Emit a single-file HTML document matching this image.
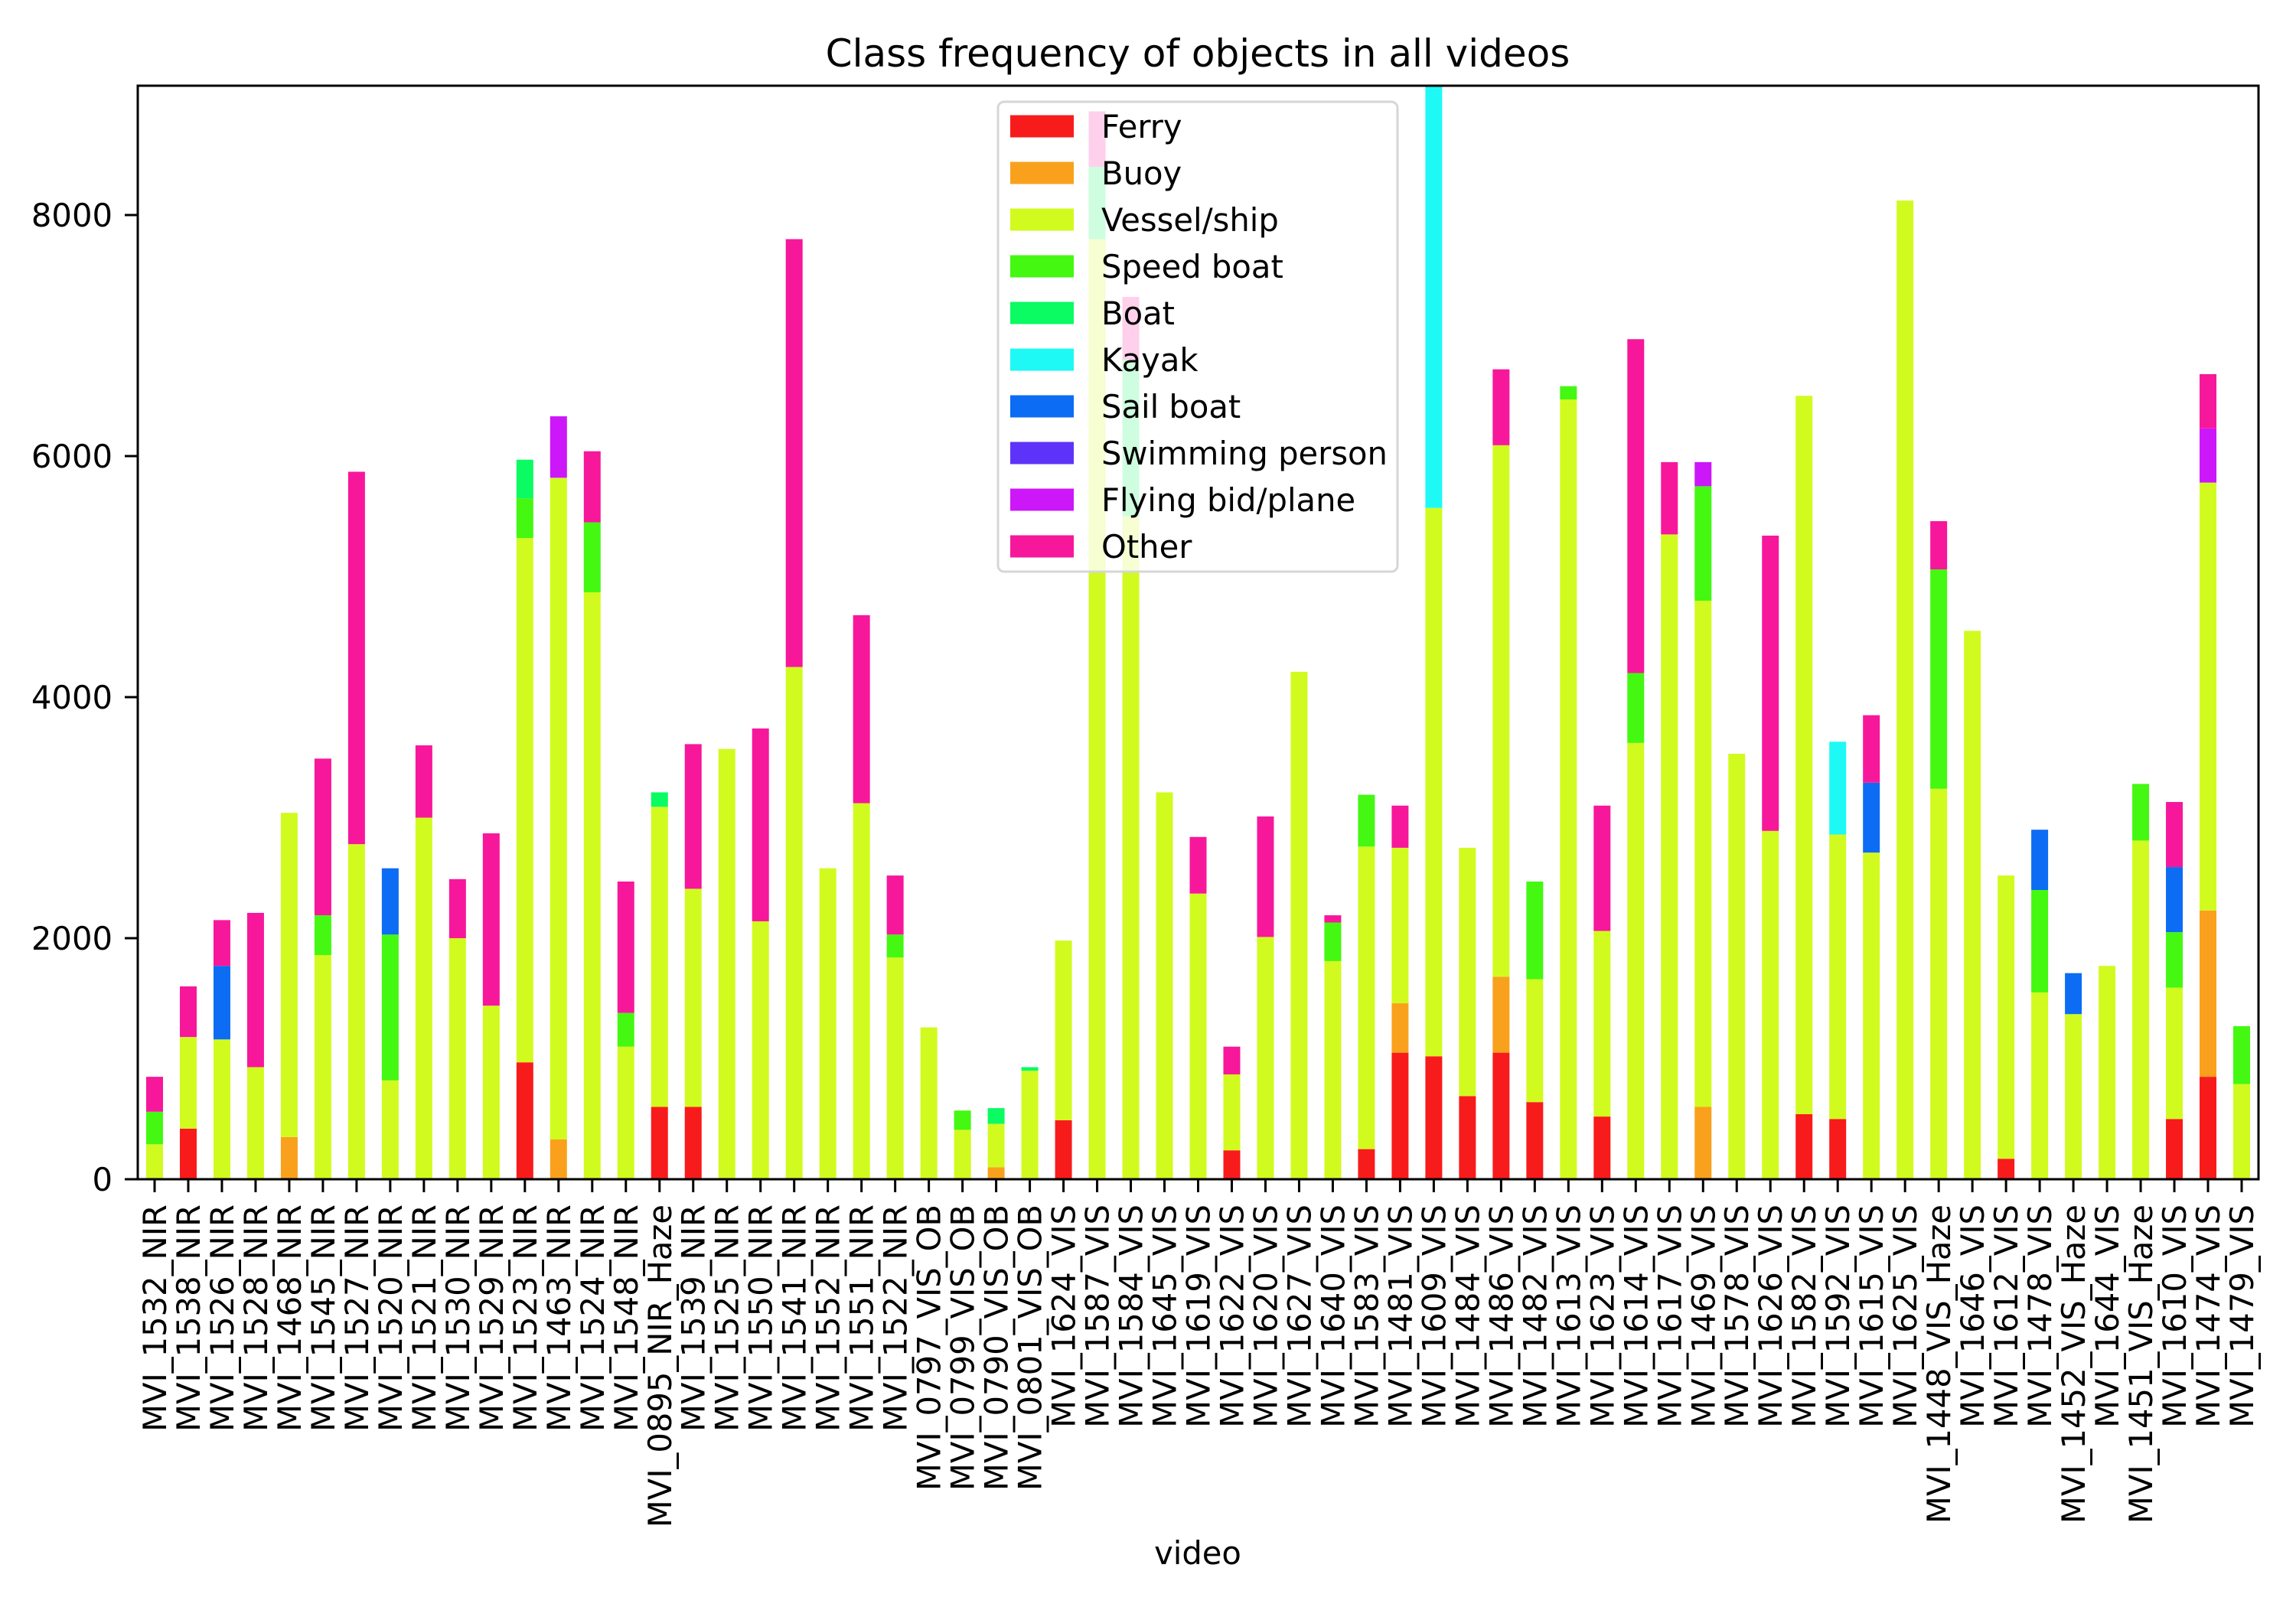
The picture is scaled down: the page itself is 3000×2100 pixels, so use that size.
<!DOCTYPE html>
<html><head><meta charset="utf-8"><style>html,body{margin:0;padding:0;background:#fff}svg{display:block}text{font-family:"DejaVu Sans","Liberation Sans",sans-serif}</style></head>
<body>
<svg id="chart" width="3000" height="2100" viewBox="0 0 3000 2100" xmlns="http://www.w3.org/2000/svg">
<rect width="3000" height="2100" fill="#fff"/>
<text x="1565" y="87" font-size="50" text-anchor="middle">Class frequency of objects in all videos</text>
<g id="bars"></g>
<g id="axes"></g>
<g id="legend"></g>
<text x="1565" y="2044" font-size="41.7" text-anchor="middle">video</text>
</svg>
<script>
const categories = ["MVI_1532_NIR","MVI_1538_NIR","MVI_1526_NIR","MVI_1528_NIR","MVI_1468_NIR","MVI_1545_NIR","MVI_1527_NIR","MVI_1520_NIR","MVI_1521_NIR","MVI_1530_NIR","MVI_1529_NIR","MVI_1523_NIR","MVI_1463_NIR","MVI_1524_NIR","MVI_1548_NIR","MVI_0895_NIR_Haze","MVI_1539_NIR","MVI_1525_NIR","MVI_1550_NIR","MVI_1541_NIR","MVI_1552_NIR","MVI_1551_NIR","MVI_1522_NIR","MVI_0797_VIS_OB","MVI_0799_VIS_OB","MVI_0790_VIS_OB","MVI_0801_VIS_OB","MVI_1624_VIS","MVI_1587_VIS","MVI_1584_VIS","MVI_1645_VIS","MVI_1619_VIS","MVI_1622_VIS","MVI_1620_VIS","MVI_1627_VIS","MVI_1640_VIS","MVI_1583_VIS","MVI_1481_VIS","MVI_1609_VIS","MVI_1484_VIS","MVI_1486_VIS","MVI_1482_VIS","MVI_1613_VIS","MVI_1623_VIS","MVI_1614_VIS","MVI_1617_VIS","MVI_1469_VIS","MVI_1578_VIS","MVI_1626_VIS","MVI_1582_VIS","MVI_1592_VIS","MVI_1615_VIS","MVI_1625_VIS","MVI_1448_VIS_Haze","MVI_1646_VIS","MVI_1612_VIS","MVI_1478_VIS","MVI_1452_VIS_Haze","MVI_1644_VIS","MVI_1451_VIS_Haze","MVI_1610_VIS","MVI_1474_VIS","MVI_1479_VIS"];
const seriesNames = ["Ferry","Buoy","Vessel/ship","Speed boat","Boat","Kayak","Sail boat","Swimming person","Flying bid/plane","Other"];
const seriesColors = ["#f81b1b","#f9a11d","#d1fb1f","#44f812","#0afb62","#1ef9f6","#0c6cf4","#5e33f9","#cc17f9","#f7179b"];
const ferry   = [0,420,0,0,0,0,0,0,0,0,0,970,0,0,0,600,600,0,0,0,0,0,0,0,0,0,0,490,0,0,0,0,240,0,0,0,250,1050,1020,690,1050,640,0,520,0,0,0,0,0,540,500,0,0,0,0,170,0,0,0,0,500,850,0];
const buoy    = [0,0,0,0,350,0,0,0,0,0,0,0,330,0,0,0,0,0,0,0,0,0,0,0,0,100,0,0,0,0,0,0,0,0,0,0,0,410,0,0,630,0,0,0,0,0,600,0,0,0,0,0,0,0,0,0,0,0,0,0,0,1380,0];
const vessel  = [290,760,1160,930,2690,1860,2780,820,3000,2000,1440,4350,5490,4870,1100,2490,1810,3570,2140,4250,2580,3120,1840,1260,410,360,900,1490,7800,5500,3210,2370,630,2010,4210,1810,2510,1290,4550,2060,4410,1020,6470,1540,3620,5350,4200,3530,2890,5960,2360,2710,8120,3240,4550,2350,1550,1370,1770,2810,1090,3550,790];
const speed   = [270,0,0,0,0,330,0,1210,0,0,0,330,0,580,280,0,0,0,0,0,0,0,190,0,160,0,0,0,0,0,0,0,0,0,0,320,430,0,0,0,0,810,110,0,580,0,950,0,0,0,0,0,0,1820,0,0,850,0,0,470,460,0,480];
const boat    = [0,0,0,0,0,0,0,0,0,0,0,320,0,0,0,120,0,0,0,0,0,0,0,0,0,130,30,0,600,1300,0,0,0,0,0,0,0,0,0,0,0,0,0,0,0,0,0,0,0,0,0,0,0,0,0,0,0,0,0,0,0,0,0];
const kayak   = [0,0,0,0,0,0,0,0,0,0,0,0,0,0,0,0,0,0,0,0,0,0,0,0,0,0,0,0,0,0,0,0,0,0,0,0,0,0,3600,0,0,0,0,0,0,0,0,0,0,0,770,0,0,0,0,0,0,0,0,0,0,0,0];
const sail    = [0,0,610,0,0,0,0,550,0,0,0,0,0,0,0,0,0,0,0,0,0,0,0,0,0,0,0,0,0,0,0,0,0,0,0,0,0,0,0,0,0,0,0,0,0,0,0,0,0,0,0,580,0,0,0,0,500,340,0,0,540,0,0];
const swimming= [0,0,0,0,0,0,0,0,0,0,0,0,0,0,0,0,0,0,0,0,0,0,0,0,0,0,0,0,0,0,0,0,0,0,0,0,0,0,0,0,0,0,0,0,0,0,0,0,0,0,0,0,0,0,0,0,0,0,0,0,0,0,0];
const flying  = [0,0,0,0,0,0,0,0,0,0,0,0,510,0,0,0,0,0,0,0,0,0,0,0,0,0,0,0,0,0,0,0,0,0,0,0,0,0,0,0,0,0,0,0,0,0,200,0,0,0,0,0,0,0,0,0,0,0,0,0,0,450,0];
const other   = [290,420,380,1280,0,1300,3090,0,600,490,1430,0,0,590,1090,0,1200,0,1600,3550,0,1560,490,0,0,0,0,0,460,520,0,470,230,1000,0,60,0,350,0,0,630,0,0,1040,2770,600,0,0,2450,0,0,560,0,400,0,0,0,0,0,0,540,450,0];
const yTicks = [0,2000,4000,6000,8000];
const yMax = 9073;

const NS="http://www.w3.org/2000/svg";
const L=180,R=2951,T=112,B=1541;
const n=categories.length, step=(R-L)/n, bw=step*0.5;
function xScale(i){return L+step*(i+0.5);}
function yScale(v){return B-(v/yMax)*(B-T);}
function mk(tag,attrs,parent){const e=document.createElementNS(NS,tag);for(const k in attrs)e.setAttribute(k,attrs[k]);parent.appendChild(e);return e;}
const series=[ferry,buoy,vessel,speed,boat,kayak,sail,swimming,flying,other];
const svg=document.getElementById('chart');
const gB=document.getElementById('bars');
const clip=mk('clipPath',{id:'plotclip'},svg);
mk('rect',{x:L,y:T,width:R-L,height:B-T},clip);
gB.setAttribute('clip-path','url(#plotclip)');
for(let i=0;i<n;i++){
  let acc=0;
  for(let s=0;s<series.length;s++){
    const v=series[s][i]; if(!v) continue;
    const y0=yScale(acc), y1=yScale(acc+v); acc+=v;
    const r=mk('rect',{x:xScale(i)-bw/2,y:y1,width:bw,height:y0-y1,fill:seriesColors[s]},gB);
    
    
  }
}
const gA=document.getElementById('axes');
const frame=mk('rect',{x:L,y:T,width:R-L,height:B-T,fill:'none',stroke:'#000','stroke-width':3},gA);


yTicks.forEach(t=>{
  const y=yScale(t);
  const tk=mk('line',{x1:L-17,x2:L,y1:y,y2:y,stroke:'#000','stroke-width':3},gA);
  
  
  const tx=mk('text',{x:L-33,y:y+15,'font-size':41.7,'text-anchor':'end'},gA);
  tx.textContent=t;
  
  
});
categories.forEach((c,i)=>{
  const x=xScale(i);
  const tk=mk('line',{x1:x,x2:x,y1:B,y2:B+17,stroke:'#000','stroke-width':3},gA);
  
  
  const tx=mk('text',{x:0,y:0,'font-size':41.7,'text-anchor':'end',transform:`translate(${x+15},${B+33}) rotate(-90)`},gA);
  tx.textContent=c;
  
  
});
const gL=document.getElementById('legend');


mk('rect',{x:1304,y:133,width:522,height:614,rx:8,fill:'#fff','fill-opacity':0.8,stroke:'#d6d6d6','stroke-width':3},gL);
seriesNames.forEach((nm,s)=>{
  const cy=165+s*61;
  const g=mk('g',{},gL);
  
  
  mk('rect',{x:1320,y:cy-14.5,width:83,height:29,fill:seriesColors[s]},g);
  const t=mk('text',{x:1439,y:cy+15,'font-size':41.7},g);
  t.textContent=nm;
});
</script>
</body></html>
